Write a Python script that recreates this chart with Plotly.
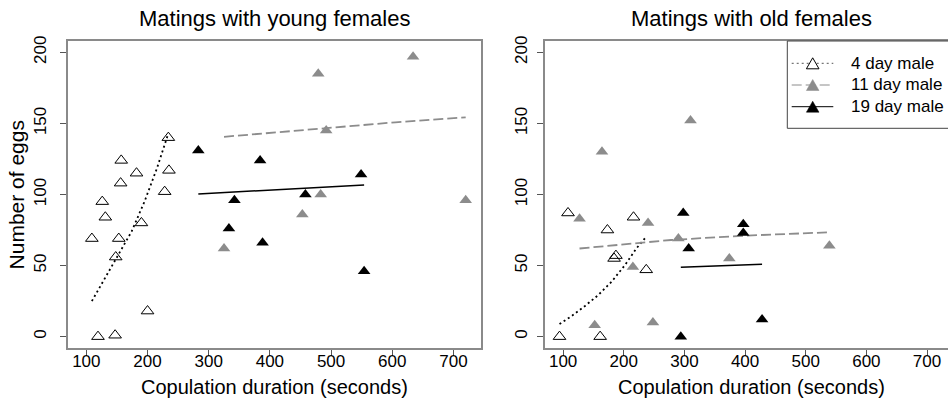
import plotly.graph_objects as go

# ---------------- data ----------------
# Matings with young females
young_4_x = [109, 119, 126, 131, 147, 148, 153, 156, 157, 182, 190, 200, 228, 234, 235]
young_4_y = [69, 0, 95, 84, 1, 56, 69, 108, 124, 115, 80, 18, 102, 140, 117]
young_11_x = [325, 453, 479, 483, 492, 634, 720]
young_11_y = [62, 86, 185, 100, 145, 197, 96]
young_19_x = [283, 333, 342, 384, 388, 458, 549, 554]
young_19_y = [131, 76, 96, 124, 66, 100, 114, 46]

# fitted curves, young
young_4_fit_x = [109, 130, 152, 174, 195, 215, 234]
young_4_fit_y = [25, 41, 57.5, 74, 95, 118, 143]
young_11_fit_x = [325, 408, 490, 605, 720]
young_11_fit_y = [140.6, 143.7, 147, 150.8, 154.3]
young_19_fit_x = [283, 554]
young_19_fit_y = [100.4, 106.7]

# Matings with old females
old_4_x = [94, 108, 161, 173, 184, 187, 216, 237]
old_4_y = [0, 87, 0, 75, 55, 57, 84, 47]
old_11_x = [127, 152, 164, 215, 240, 248, 290, 310, 374, 539]
old_11_y = [83, 8, 130, 49, 80, 10, 69, 152, 55, 64]
old_19_x = [294, 298, 307, 397, 397, 428]
old_19_y = [0, 87, 62, 79, 73, 12]

# fitted curves, old
old_4_fit_x = [94, 115, 136, 158, 180, 202, 221, 237]
old_4_fit_y = [8.9, 14.8, 21.6, 29.3, 38.7, 50.4, 62.2, 70.3]
old_11_fit_x = [127, 278, 397, 539]
old_11_fit_y = [62, 68, 71, 73.4]
old_19_fit_x = [294, 428]
old_19_fit_y = [48.8, 50.9]

series_names = ["4 day male", "11 day male", "19 day male"]
panel_titles = ["Matings with young females", "Matings with old females"]
x_title = "Copulation duration (seconds)"
y_title = "Number of eggs"
x_ticks = [100, 200, 300, 400, 500, 600, 700]
y_ticks = [0, 50, 100, 150, 200]

# ---------------- styles / layout constants ----------------
FONT = "Liberation Sans, Arial, sans-serif"
GRAY = "#8c8c8c"
BOX = "#8a8a8a"
TRI = 11
W, H = 948, 406
ML, MT, MB = 68, 41, 58
PW, PH = W - ML, H - MT - MB
DOM1 = [0.0, 0.4693]
DOM2 = [0.542, 1.0]

styles = {
    "4": dict(marker=dict(symbol="triangle-up-open", size=TRI, color="black", line=dict(width=1, color="black")),
              line=dict(color="black", width=1.8, dash="2px,3px")),
    "11": dict(marker=dict(symbol="triangle-up", size=TRI, color=GRAY, line=dict(width=0)),
               line=dict(color=GRAY, width=1.8, dash="10px,4px")),
    "19": dict(marker=dict(symbol="triangle-up", size=TRI, color="black", line=dict(width=0)),
               line=dict(color="black", width=1.5)),
}

fig = go.Figure()

panels = [
    ("x", "y", [(young_4_x, young_4_y, young_4_fit_x, young_4_fit_y, "4"),
                (young_11_x, young_11_y, young_11_fit_x, young_11_fit_y, "11"),
                (young_19_x, young_19_y, young_19_fit_x, young_19_fit_y, "19")]),
    ("x2", "y2", [(old_4_x, old_4_y, old_4_fit_x, old_4_fit_y, "4"),
                  (old_11_x, old_11_y, old_11_fit_x, old_11_fit_y, "11"),
                  (old_19_x, old_19_y, old_19_fit_x, old_19_fit_y, "19")]),
]

for xa, ya, groups in panels:
    for (px, py, fx, fy, key), nm in zip(groups, series_names):
        fig.add_trace(go.Scatter(x=fx, y=fy, mode="lines", line=styles[key]["line"], name=nm,
                                 xaxis=xa, yaxis=ya, showlegend=False, hoverinfo="skip"))
        fig.add_trace(go.Scatter(x=px, y=py, mode="markers", marker=styles[key]["marker"], name=nm,
                                 xaxis=xa, yaxis=ya, showlegend=False))

axis_common = dict(showline=True, linecolor=BOX, linewidth=1.5, ticks="outside", ticklen=6,
                   tickcolor="#555", tickwidth=1, showgrid=False, zeroline=False,
                   tickfont=dict(family=FONT, size=17, color="black"), automargin=False)

fig.update_layout(
    width=W, height=H,
    margin=dict(l=ML, r=0, t=MT, b=MB),
    paper_bgcolor="white", plot_bgcolor="white",
    font=dict(family=FONT, color="black"),
    xaxis=dict(axis_common, domain=DOM1, range=[70, 745], tickvals=x_ticks, mirror=True,
               anchor="y", ticklabelstandoff=-9),
    yaxis=dict(axis_common, domain=[0, 1], range=[-8, 208], tickvals=y_ticks, mirror=True,
               anchor="x", tickangle=-90, ticklabelstandoff=7),
    xaxis2=dict(axis_common, domain=DOM2, range=[70, 734.6], tickvals=x_ticks, mirror=True,
                anchor="y2", ticklabelstandoff=-9),
    yaxis2=dict(axis_common, domain=[0, 1], range=[-8, 208], tickvals=y_ticks, mirror=False,
                anchor="x2", tickangle=-90, ticklabelstandoff=3),
    showlegend=False,
)


def fx_(px):
    return (px - ML) / PW


def fy_(py):
    return (H - MB - py) / PH


# ---------------- legend (box runs past the right edge, as in the reference) ----------------
fig.add_shape(type="rect", xref="paper", yref="paper", x0=fx_(787.3), x1=fx_(990), y0=fy_(128.3), y1=fy_(41),
              line=dict(color="#444", width=1), fillcolor="white", layer="above")

row_y = [63.3, 85.0, 106.7]
for name, key, ry in zip(series_names, ["4", "11", "19"], row_y):
    st = styles[key]
    ln = dict(st["line"])
    ln["width"] = 1
    if key == "4":
        ln["color"] = "#555"
    fig.add_shape(type="line", xref="paper", yref="paper", x0=fx_(791.7), x1=fx_(833.3),
                  y0=fy_(ry), y1=fy_(ry), line=ln, layer="above")
    cx, hw, hh = 812.7, 6.3, 5.5
    path = "M{},{} L{},{} L{},{} Z".format(fx_(cx), fy_(ry - hh), fx_(cx + hw), fy_(ry + hh),
                                           fx_(cx - hw), fy_(ry + hh))
    mk = st["marker"]
    if key == "4":
        fig.add_shape(type="path", path=path, xref="paper", yref="paper",
                      line=dict(color="black", width=1), fillcolor="white", layer="above")
    else:
        fig.add_shape(type="path", path=path, xref="paper", yref="paper",
                      line=dict(color=mk["color"], width=0.5), fillcolor=mk["color"], layer="above")
    fig.add_annotation(text=name, xref="paper", yref="paper", x=fx_(849), y=fy_(ry),
                       xanchor="left", yanchor="middle", showarrow=False,
                       font=dict(family=FONT, size=17, color="black"))

# panel titles
for title, cx in zip(panel_titles, [(DOM1[0] + DOM1[1]) / 2, DOM2[0] + (DOM1[1] - DOM1[0]) / 2]):
    fig.add_annotation(text=title, xref="paper", yref="paper", x=cx, y=1.072,
                       xanchor="center", yanchor="middle", showarrow=False,
                       font=dict(family=FONT, size=22, color="black"))

# x axis titles
for cx in [(DOM1[0] + DOM1[1]) / 2, DOM2[0] + (DOM1[1] - DOM1[0]) / 2]:
    fig.add_annotation(text=x_title, xref="paper", yref="paper", x=cx, y=-0.127,
                       xanchor="center", yanchor="middle", showarrow=False,
                       font=dict(family=FONT, size=20, color="black"))

# y axis title
fig.add_annotation(text=y_title, xref="paper", yref="paper", x=-0.058, y=0.5, textangle=-90,
                   xanchor="center", yanchor="middle", showarrow=False,
                   font=dict(family=FONT, size=21, color="black"))

fig.write_html("out.html", config={"displayModeBar": False},
               post_script="document.body.style.margin='0';")
